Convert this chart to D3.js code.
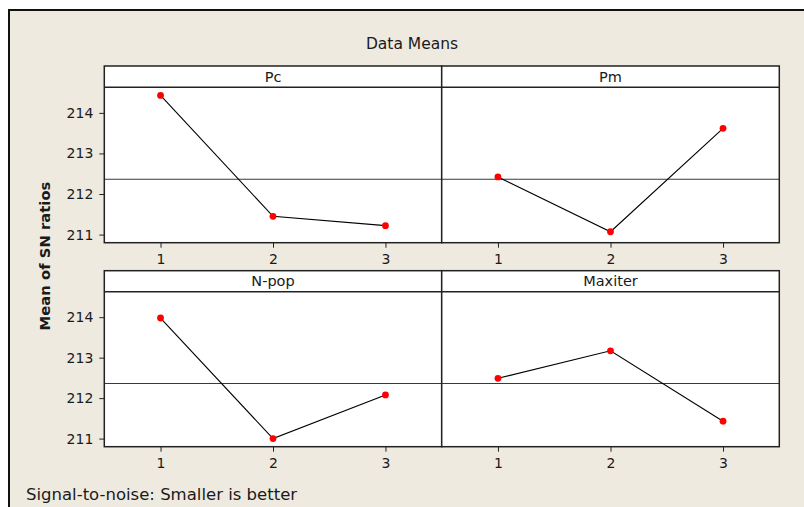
<!DOCTYPE html>
<html>
<head>
<meta charset="utf-8">
<script src="https://cdn.jsdelivr.net/npm/d3@7"></script>
<style>
  html, body { margin: 0; padding: 0; background: #ffffff; }
  svg { display: block; }
  text { font-family: "DejaVu Sans", Verdana, sans-serif; fill: #1a1a1a; }
</style>
</head>
<body>
<svg id="chart" width="804" height="507"></svg>
<script>
// Main effects plot for SN ratios (data means)
const factors = ["Pc", "Pm", "N-pop", "Maxiter"];
const levels = [1, 2, 3];
const pcMeans = [214.43, 211.45, 211.22];
const pmMeans = [212.42, 211.07, 213.62];
const npopMeans = [213.98, 211.00, 212.08];
const maxiterMeans = [212.49, 213.17, 211.43];
const yTicks = [211, 212, 213, 214];
const seriesByFactor = [pcMeans, pmMeans, npopMeans, maxiterMeans];

// grand mean of all level means
const grandMean = d3.mean(seriesByFactor.flat());

const svg = d3.select("#chart");

// page frame
svg.append("rect")
  .attr("x", 9).attr("y", 10).attr("width", 820).attr("height", 520)
  .attr("fill", "#eeeae0").attr("stroke", "#111").attr("stroke-width", 2);

svg.append("text")
  .attr("x", 412).attr("y", 48.5)
  .attr("text-anchor", "middle").attr("font-size", 15.5)
  .text("Data Means");

svg.append("text")
  .attr("transform", "translate(50,256) rotate(-90)")
  .attr("text-anchor", "middle").attr("font-size", 14.8).attr("font-weight", "bold")
  .text("Mean of SN ratios");

svg.append("text")
  .attr("x", 26).attr("y", 500)
  .attr("font-size", 16.5)
  .text("Signal-to-noise: Smaller is better");

const colX = [[104.3, 441.7], [441.7, 779.3]];
const rowY = [{ top: 66, strip: 87.3, bottom: 242.7 }, { top: 270.7, strip: 291.7, bottom: 446.7 }];
const yDomain = [210.8, 214.63];

factors.forEach((name, i) => {
  const col = i % 2, row = Math.floor(i / 2);
  const [x0, x1] = colX[col];
  const r = rowY[row];
  const x = d3.scaleLinear().domain([0.5, 3.5]).range([x0, x1]);
  const y = d3.scaleLinear().domain(yDomain).range([r.bottom, r.strip]);
  const g = svg.append("g");

  // panel background
  g.append("rect").attr("x", x0).attr("y", r.top).attr("width", x1 - x0).attr("height", r.bottom - r.top)
    .attr("fill", "#ffffff");

  // reference line at the grand mean
  g.append("line")
    .attr("x1", x0).attr("x2", x1)
    .attr("y1", y(grandMean)).attr("y2", y(grandMean))
    .attr("stroke", "#3a3a3a").attr("stroke-width", 1.1);

  // x axis below each panel
  const xAxis = d3.axisBottom(x).tickValues(levels).tickSize(5).tickPadding(6).tickFormat(d3.format("d"));
  const xg = g.append("g").attr("transform", `translate(0,${r.bottom})`).call(xAxis);
  xg.select(".domain").remove();
  xg.selectAll("line").attr("stroke", "#222");
  xg.selectAll("text").attr("font-size", 14).attr("font-family", "DejaVu Sans").attr("fill", "#1a1a1a");

  if (col === 0) {
    const yAxis = d3.axisLeft(y).tickValues(yTicks).tickSize(5).tickPadding(6).tickFormat(d3.format("d"));
    const yg = g.append("g").attr("transform", `translate(${x0},0)`).call(yAxis);
    yg.select(".domain").remove();
    yg.selectAll("line").attr("stroke", "#222");
    yg.selectAll("text").attr("font-size", 14).attr("font-family", "DejaVu Sans").attr("fill", "#1a1a1a");
  }

  // data line and markers
  const vals = seriesByFactor[i];
  const pts = levels.map((lv, k) => [x(lv), y(vals[k])]);
  g.append("path").attr("d", d3.line()(pts)).attr("fill", "none").attr("stroke", "#000").attr("stroke-width", 1.1);
  g.selectAll("circle.pt").data(pts).enter().append("circle")
    .attr("cx", d => d[0]).attr("cy", d => d[1]).attr("r", 3.4).attr("fill", "#ff0000");

  // strip and borders
  g.append("line").attr("x1", x0).attr("x2", x1).attr("y1", r.strip).attr("y2", r.strip)
    .attr("stroke", "#222").attr("stroke-width", 1.5);
  g.append("rect").attr("x", x0).attr("y", r.top).attr("width", x1 - x0).attr("height", r.bottom - r.top)
    .attr("fill", "none").attr("stroke", "#222").attr("stroke-width", 1.5);
  g.append("text")
    .attr("x", (x0 + x1) / 2).attr("y", (r.top + r.strip) / 2 + 5)
    .attr("text-anchor", "middle").attr("font-size", 14.5)
    .text(name);
});
</script>
</body>
</html>
